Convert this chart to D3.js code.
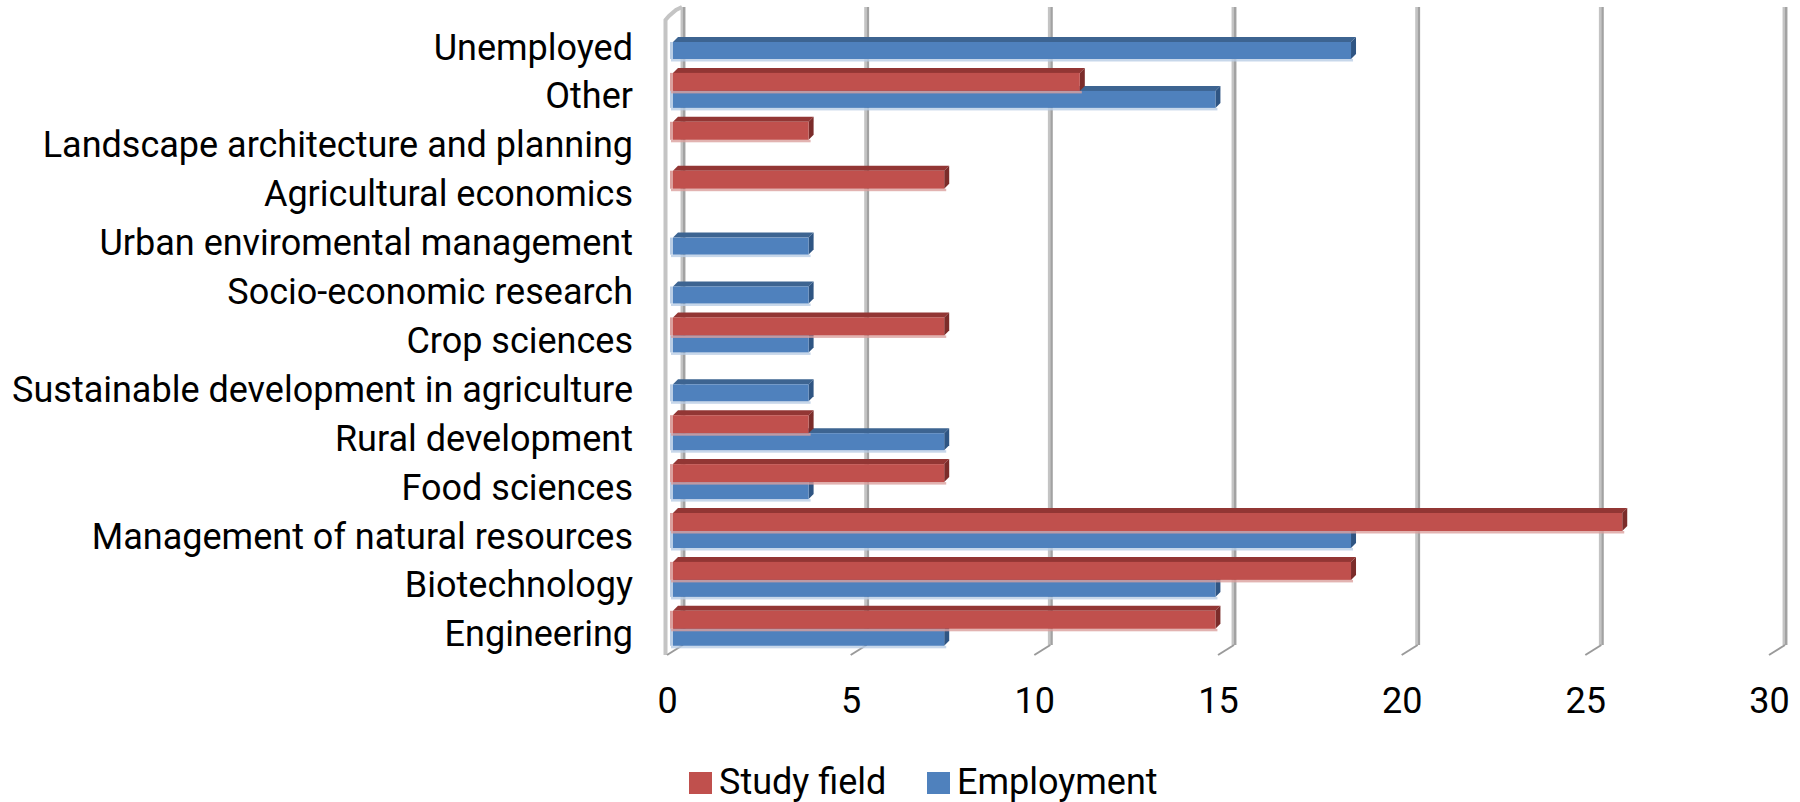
<!DOCTYPE html>
<html>
<head>
<meta charset="utf-8">
<script src="https://cdn.jsdelivr.net/npm/d3@7"></script>
<style>
  body { margin: 0; background: #fff; }
  svg { display: block; }
  text { font-family: Roboto, "Noto Sans", sans-serif; fill: #000; }
</style>
</head>
<body>
<svg id="chart" width="1800" height="802"></svg>
<script>
// categories, top to bottom
const categories = [
    "Unemployed",
    "Other",
    "Landscape architecture and planning",
    "Agricultural economics",
    "Urban enviromental management",
    "Socio-economic research",
    "Crop sciences",
    "Sustainable development in agriculture",
    "Rural development",
    "Food sciences",
    "Management of natural resources",
    "Biotechnology",
    "Engineering"
];
// percent of respondents
const study_field = [0, 11.1, 3.7, 7.4, 0, 0, 7.4, 0, 3.7, 7.4, 25.9, 18.5, 14.8];
const employment  = [18.5, 14.8, 0, 0, 3.7, 3.7, 3.7, 3.7, 7.4, 3.7, 18.5, 14.8, 7.4];
const series_names = ["Study field", "Employment"];
const tick_values = [0, 5, 10, 15, 20, 25, 30];

function draw_chart(svg_name){
    let chart = d3.select(svg_name);

    // 3d planes: bars in front, gridlines on back wall, labels on floor edge
    let x_bar   = d3.scaleLinear().domain([0, 30]).range([673, 1772.5]);
    let x_back  = d3.scaleLinear().domain([0, 30]).range([683, 1785]);
    let x_floor = d3.scaleLinear().domain([0, 30]).range([667, 1769]);
    let y_split = d3.scalePoint().domain(categories).range([42, 628.8]);

    let wall_top = 7, wall_bottom = 645;
    let depth_x = 16, depth_y = 10;   // floor depth
    let bar_dx = 5, bar_dy = 5;       // bar depth

    // left wall edge
    chart.append("path")
        .attr("d", "M665.5,655 L665.5,20 L669,16 L676,10 L682,7")
        .attr("fill", "none")
        .attr("stroke", "#c4c4c4")
        .attr("stroke-width", 4);

    // back wall gridlines
    let grid = chart.append("g");
    grid.selectAll("line.light")
        .data(tick_values).enter()
        .append("line")
            .attr("class", "light")
            .attr("x1", d => x_back(d) - 1.2)
            .attr("x2", d => x_back(d) - 1.2)
            .attr("y1", wall_top)
            .attr("y2", wall_bottom)
            .attr("stroke", "#c4c4c4")
            .attr("stroke-width", 2.5);
    grid.selectAll("line.dark")
        .data(tick_values).enter()
        .append("line")
            .attr("class", "dark")
            .attr("x1", d => x_back(d) + 1.2)
            .attr("x2", d => x_back(d) + 1.2)
            .attr("y1", wall_top)
            .attr("y2", wall_bottom)
            .attr("stroke", "#a2a2a2")
            .attr("stroke-width", 2.5);
    // floor lines
    grid.selectAll("line.floor")
        .data(tick_values).enter()
        .append("line")
            .attr("class", "floor")
            .attr("x1", d => x_back(d))
            .attr("x2", d => x_back(d) - depth_x)
            .attr("y1", wall_bottom)
            .attr("y2", wall_bottom + depth_y)
            .attr("stroke", "#9a9a9a")
            .attr("stroke-width", 2);

    // bars: employment first, study field over it
    let series = [
        {name: series_names[1], values: employment, y0: 0, h: 17,
         front: "#4f81bd", top: "#3d6491", side: "#2f5583", fringe: "#b9cde5"},
        {name: series_names[0], values: study_field, y0: -18, h: 18,
         front: "#c0504d", top: "#923634", side: "#7b2c2a", fringe: "#dba09e"}
    ];

    series.forEach(function(s){
        let data = categories.map((c, i) => ({cat: c, v: s.values[i]})).filter(d => d.v > 0);
        let g = chart.append("g");

        g.selectAll("rect.fringe")
            .data(data).enter()
            .append("rect")
                .attr("class", "fringe")
                .attr("x", x_bar(0) - 2)
                .attr("y", d => y_split(d.cat) + s.y0 + s.h)
                .attr("width", d => x_bar(d.v) - x_bar(0) + 4)
                .attr("height", 2.5)
                .attr("fill", s.fringe)
                .attr("fill-opacity", 0.8);

        g.selectAll("path.top")
            .data(data).enter()
            .append("path")
                .attr("class", "top")
                .attr("d", function(d){
                    let x0 = x_bar(0), x1 = x_bar(d.v), y = y_split(d.cat) + s.y0;
                    return "M" + x0 + "," + y + " L" + (x0 + bar_dx) + "," + (y - bar_dy)
                        + " L" + (x1 + bar_dx) + "," + (y - bar_dy) + " L" + x1 + "," + y + " Z";
                })
                .attr("fill", s.top);

        g.selectAll("path.side")
            .data(data).enter()
            .append("path")
                .attr("class", "side")
                .attr("d", function(d){
                    let x1 = x_bar(d.v), y = y_split(d.cat) + s.y0;
                    return "M" + x1 + "," + y + " L" + (x1 + bar_dx) + "," + (y - bar_dy)
                        + " L" + (x1 + bar_dx) + "," + (y + s.h - bar_dy) + " L" + x1 + "," + (y + s.h) + " Z";
                })
                .attr("fill", s.side);

        g.selectAll("rect.front")
            .data(data).enter()
            .append("rect")
                .attr("class", "front")
                .attr("x", x_bar(0))
                .attr("y", d => y_split(d.cat) + s.y0)
                .attr("width", d => x_bar(d.v) - x_bar(0))
                .attr("height", s.h)
                .attr("fill", s.front);

        // pale left edge
        g.selectAll("rect.edge")
            .data(data).enter()
            .append("rect")
                .attr("class", "edge")
                .attr("x", x_bar(0) - 3)
                .attr("y", d => y_split(d.cat) + s.y0)
                .attr("width", 3)
                .attr("height", s.h)
                .attr("fill", s.fringe);
    });

    // value axis labels on the floor edge
    let x_axis = chart.append("g")
        .attr("transform", "translate(0,713)")
        .call(d3.axisBottom(x_floor).tickValues(tick_values).tickSize(0));
    x_axis.select(".domain").remove();
    x_axis.selectAll("text")
        .attr("y", 0)
        .attr("dy", null)
        .style("font-family", "Roboto")
        .style("font-size", "36px")
        .style("fill", "#000");

    // category labels
    let y_axis = chart.append("g")
        .attr("transform", "translate(633,0)")
        .call(d3.axisLeft(y_split).tickSize(0).tickPadding(0));
    y_axis.select(".domain").remove();
    y_axis.selectAll("text")
        .attr("y", 17)
        .attr("dy", null)
        .style("font-family", "Roboto")
        .style("font-size", "36px")
        .style("fill", "#000");

    // legend
    let legend = chart.append("g");
    let legend_x = [689, 927];
    let legend_col = ["#c0504d", "#4f81bd"];
    legend.selectAll("rect")
        .data(series_names).enter()
        .append("rect")
            .attr("x", (d, i) => legend_x[i])
            .attr("y", 772)
            .attr("width", 23)
            .attr("height", 22)
            .attr("fill", (d, i) => legend_col[i]);
    legend.selectAll("text")
        .data(series_names).enter()
        .append("text")
            .attr("x", (d, i) => legend_x[i] + 30)
            .attr("y", 794)
            .style("font-size", "36px")
            .text(d => d);
}

draw_chart("#chart");
</script>
</body>
</html>
